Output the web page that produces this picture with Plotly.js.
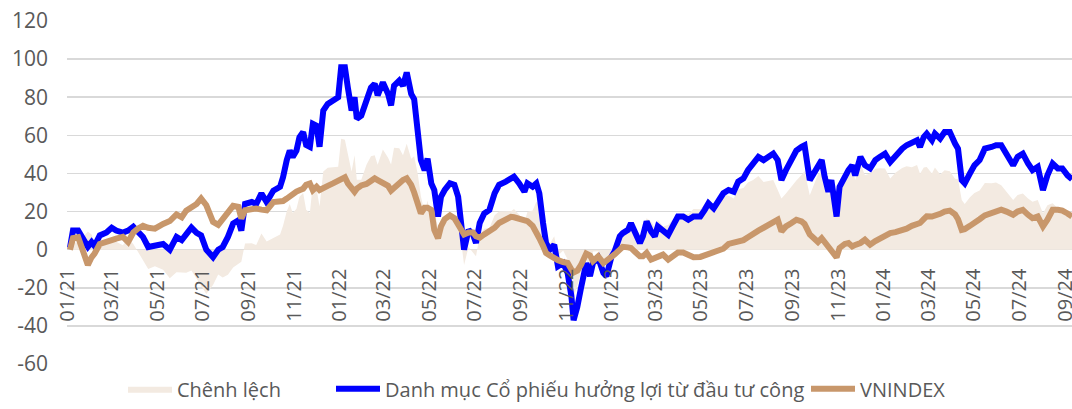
<!DOCTYPE html>
<html>
<head>
<meta charset="utf-8">
<script src="https://cdn.plot.ly/plotly-3.0.1.min.js"></script>
<style>html,body{margin:0;padding:0;background:#fff;}#chart{width:1072px;height:409px;}</style>
</head>
<body>
<div id="chart"></div>
<script>
const dates = ['2021-01-04','2021-01-08','2021-01-15','2021-01-22','2021-01-28','2021-02-02','2021-02-06','2021-02-13','2021-02-22','2021-03-01','2021-03-07','2021-03-16','2021-03-23','2021-03-30','2021-04-05','2021-04-12','2021-04-19','2021-04-28','2021-05-09','2021-05-18','2021-05-27','2021-06-03','2021-06-09','2021-06-16','2021-06-23','2021-06-29','2021-07-06','2021-07-15','2021-07-22','2021-07-28','2021-08-04','2021-08-11','2021-08-18','2021-08-22','2021-08-27','2021-09-05','2021-09-11','2021-09-18','2021-09-25','2021-10-04','2021-10-13','2021-10-17','2021-10-22','2021-10-26','2021-10-30','2021-11-04','2021-11-08','2021-11-13','2021-11-17','2021-11-22','2021-11-26','2021-12-01','2021-12-05','2021-12-10','2021-12-16','2021-12-23','2021-12-30','2022-01-03','2022-01-08','2022-01-12','2022-01-17','2022-01-21','2022-01-24','2022-01-30','2022-02-06','2022-02-12','2022-02-17','2022-02-21','2022-02-28','2022-03-07','2022-03-11','2022-03-15','2022-03-22','2022-03-27','2022-04-01','2022-04-07','2022-04-11','2022-04-16','2022-04-20','2022-04-25','2022-04-29','2022-05-04','2022-05-08','2022-05-13','2022-05-17','2022-05-22','2022-05-29','2022-06-04','2022-06-09','2022-06-13','2022-06-17','2022-06-23','2022-06-29','2022-07-03','2022-07-08','2022-07-14','2022-07-21','2022-07-28','2022-08-03','2022-08-12','2022-08-19','2022-08-23','2022-08-30','2022-09-06','2022-09-10','2022-09-17','2022-09-22','2022-09-26','2022-10-01','2022-10-05','2022-10-10','2022-10-16','2022-10-21','2022-10-28','2022-11-03','2022-11-08','2022-11-11','2022-11-16','2022-11-21','2022-11-28','2022-12-03','2022-12-07','2022-12-14','2022-12-21','2022-12-25','2023-01-01','2023-01-05','2023-01-12','2023-01-16','2023-01-23','2023-01-27','2023-02-01','2023-02-08','2023-02-12','2023-02-17','2023-02-23','2023-02-28','2023-03-04','2023-03-11','2023-03-18','2023-03-25','2023-03-31','2023-04-07','2023-04-14','2023-04-21','2023-04-30','2023-05-06','2023-05-11','2023-05-18','2023-05-24','2023-05-31','2023-06-07','2023-06-14','2023-06-20','2023-06-27','2023-07-03','2023-07-10','2023-07-17','2023-07-24','2023-07-30','2023-08-06','2023-08-12','2023-08-17','2023-08-23','2023-08-30','2023-09-06','2023-09-13','2023-09-17','2023-09-24','2023-10-01','2023-10-05','2023-10-10','2023-10-14','2023-10-19','2023-10-23','2023-10-30','2023-11-03','2023-11-10','2023-11-15','2023-11-20','2023-11-24','2023-12-01','2023-12-07','2023-12-14','2023-12-21','2023-12-27','2024-01-03','2024-01-10','2024-01-17','2024-01-26','2024-02-01','2024-02-08','2024-02-15','2024-02-19','2024-02-24','2024-02-28','2024-03-06','2024-03-10','2024-03-17','2024-03-23','2024-03-30','2024-04-06','2024-04-10','2024-04-15','2024-04-19','2024-04-26','2024-05-02','2024-05-09','2024-05-16','2024-05-25','2024-05-31','2024-06-07','2024-06-14','2024-06-23','2024-06-29','2024-07-06','2024-07-13','2024-07-19','2024-07-26','2024-08-02','2024-08-08','2024-08-15','2024-08-22','2024-08-28','2024-09-04','2024-09-10'];

const danhMuc = [1,10,10,5,1.5,4,2,7.5,9,11.5,10,9,10,12,10,6.7,1.4,2.3,3,0,6.7,5,8.4,11.6,8.8,7.5,0,-3.9,0,1.4,6.7,13.7,15.4,10,24,25,24,29.5,25,31,33,38,47,52,48.7,52,59,61.7,55,54,66,65,54,73,76.5,78,80,95.7,95.7,85,73,80,68.7,70.4,79,85,87,81,87.8,81.7,75.7,86,88.7,86,93,81.7,79,64.3,47,41.7,47.8,34.8,31.3,17.4,27.8,31.3,34.8,34,27.8,14,0,10.4,7.8,3.5,14,19,20.9,29.6,34,35.7,37.4,38.3,34.8,30.4,34.8,33,34.8,29.6,14,3.5,0,2.6,-8.7,-7,-12.2,-24.3,-37,-30,-20,-7,-13.9,-7,-4.3,-12.2,-13.9,-3.5,-0.9,7,8.7,10.4,13.9,8.7,3.5,7,14.8,9.6,7,12.2,9.6,7.8,13,17.4,17.4,15.7,17.4,17.4,20.9,24.3,21.7,26,29.6,31.3,30.4,35.7,37.4,41.7,45.2,48.7,47,48.7,50.4,47,36.5,41.7,47,52,54,54.8,36.5,41.7,43.5,47,38.3,30.4,36.5,17.4,33,39.1,41.7,44.3,39,48.7,44.3,42.6,47,48.7,50.4,46,49.6,53,54.8,55.7,57.4,53.9,59.1,60.9,57.4,60.9,58.3,61.7,61.7,55.7,53,36.5,34.8,40,44.3,47,53,53.9,54.8,54.8,50.4,44.3,48.7,50.4,45.2,41.7,43.5,31.3,39,45.2,42.6,42.6,39,37];

const vnIndex = [0,6,6.5,-2,-8,-4,-2,3,4.5,5,5.8,6.7,4,9,11,12.5,11.5,11,13.5,15,18.5,17,20.5,22.5,24,26.8,23.3,14.6,13,16,19.8,23,22.5,16.3,20.7,21.6,21.6,21,20.7,25,25,25.5,26.8,28,29.5,30.5,31.2,32,34,34.7,31.2,33,31.3,32,33.5,34.8,36.5,37.5,38,34.8,32,30.4,32,33.7,34.5,36,37.4,36.5,35.2,33.5,31,32.5,35.5,36.5,37.4,34,30,25,19,22,22,20.9,10.4,6,12.2,16,18,16.5,13,9.6,8,9,9,7,6.3,8,9.5,11.5,14,15.7,17.2,17,16.5,16,15,12.5,9.6,6,2,-1.7,-3,-4.5,-5.5,-6.5,-7,-10.4,-12,-11,-8,-2,-3,-6,-3.5,-7,-6,-4,-2.5,0,1.5,1.2,0.9,-1,-3.5,-3.5,-1.7,-5.2,-4.5,-3.5,-2.6,-5.2,-3.5,-1.5,-1.5,-3,-4,-3.8,-3,-2.6,-2,-1.2,0.5,3,3.5,4,5,6.5,8.7,10,11.5,12.8,13.9,15.7,9.6,12.2,13.9,15.7,14.8,13.5,8,5.5,4,6,4,1.7,0,-4,0.9,3,3.5,1.7,2.5,3.5,5.2,2.6,4.5,6,7.8,8.7,9.2,10.2,11,12.5,13,14,16,17.5,17.4,17.8,18.8,20,20.5,18.5,16,10.4,10.8,12.5,14.5,16,18,19.1,19.5,21,20,18.3,20,20.9,18.3,16.5,17.4,12.2,15.7,20.9,20.9,20.5,19,17.4];

const chenhLech = [1,4,3.5,7,9.5,8,4,4.5,4.5,6.5,4.2,2.3,6,3,-1,-5.8,-10.1,-8.7,-10.5,-15,-11.8,-12,-12.1,-10.9,-15.2,-19.3,-23.3,-18.5,-13,-14.6,-13.1,-9.3,-7.1,-6.3,3.3,3.4,2.4,8.5,4.3,6,8,12.5,20.2,24,19.2,21.5,27.8,29.7,21,19.3,34.8,32,22.7,41,43,43.2,43.5,58.2,57.7,50.2,41,49.6,36.7,36.7,44.5,49,49.6,44.5,52.6,48.2,44.7,53.5,53.2,49.5,55.6,47.7,49,39.3,28,19.7,25.8,13.9,20.9,11.4,15.6,15.3,16.8,17.5,14.8,4.4,-8,1.4,-1.2,-3.5,7.7,11,11.4,18.1,20,20,20.2,21.3,18.3,14.4,19.8,20.5,25.2,23.6,12,5.2,3,7.1,-3.2,-0.5,-5.2,-13.9,-25,-19,-12,-5,-10.9,-1,-0.8,-5.2,-7.9,0.5,1.6,7,7.2,9.2,13,9.7,7,10.5,16.5,14.8,11.5,15.7,12.2,13,16.5,18.9,18.9,18.7,21.4,21.2,23.9,26.9,23.7,27.2,29.1,28.3,26.9,31.7,32.4,35.2,36.5,38.7,35.5,35.9,36.5,31.3,26.9,29.5,33.1,36.3,39.2,41.3,28.5,36.2,39.5,41,34.3,28.7,36.5,21.4,32.1,36.1,38.2,42.6,36.5,45.2,39.1,40,42.5,42.7,42.6,37.3,40.4,42.8,43.8,43.2,44.4,39.9,43.1,43.4,40,43.1,39.5,41.7,41.2,37.2,37,26.1,24,27.5,29.8,31,35,34.8,35.3,33.8,30.4,26,28.7,29.5,26.9,25.2,26.1,19.1,23.3,24.3,21.7,22.1,20,19.6];

const seriesNames = ['Chênh lệch', 'Danh mục Cổ phiếu hưởng lợi từ đầu tư công', 'VNINDEX'];

const xTickVals = ['2021-01-01','2021-03-01','2021-05-01','2021-07-01','2021-09-01','2021-11-01','2022-01-01','2022-03-01','2022-05-01','2022-07-01','2022-09-01','2022-11-01','2023-01-01','2023-03-01','2023-05-01','2023-07-01','2023-09-01','2023-11-01','2024-01-01','2024-03-01','2024-05-01','2024-07-01','2024-09-01'];
const xTickText = ['01/21','03/21','05/21','07/21','09/21','11/21','01/22','03/22','05/22','07/22','09/22','11/22','01/23','03/23','05/23','07/23','09/23','11/23','01/24','03/24','05/24','07/24','09/24'];
const yTickVals = [-60,-40,-20,0,20,40,60,80,100,120];
const yTickText = ['-60','-40','-20','0','20','40','60','80','100','120'];

const FONT = 'Open Sans, Noto Sans, sans-serif';
const GREY = '#595959';

const traces = [
  {
    x: dates, y: chenhLech, name: seriesNames[0], type: 'scatter', mode: 'lines',
    fill: 'tozeroy', fillcolor: '#F3EAE1', line: {width: 0, color: '#F3EAE1'}, legend: 'legend'
  },
  {
    x: dates, y: danhMuc, name: seriesNames[1], type: 'scatter', mode: 'lines',
    line: {color: '#0000FF', width: 6}, legend: 'legend2'
  },
  {
    x: dates, y: vnIndex, name: seriesNames[2], type: 'scatter', mode: 'lines',
    line: {color: '#C8976B', width: 6}, legend: 'legend3'
  }
];

function leg(xpx) {
  return {
    orientation: 'h', x: (xpx - 67) / 1005, xanchor: 'left', y: -0.129, yanchor: 'bottom',
    font: {family: FONT, size: 20, color: GREY}, bgcolor: 'rgba(0,0,0,0)', itemwidth: 44
  };
}

const layout = {
  width: 1072, height: 409,
  margin: {l: 67, r: 0, t: 21, b: 45, pad: 0, autoexpand: false},
  paper_bgcolor: '#ffffff', plot_bgcolor: '#ffffff',
  font: {family: FONT, size: 20, color: GREY},
  showlegend: true,
  legend: leg(123),
  legend2: leg(331),
  legend3: leg(806),
  xaxis: {
    type: 'date', range: ['2020-12-31', '2024-09-10'],
    tickmode: 'array', tickvals: xTickVals, ticktext: xTickText, tickangle: -90,
    showgrid: false, zeroline: false, showline: false, ticks: '',
    anchor: 'free', position: 1/3, ticklabelstandoff: 14, ticklabeloverflow: 'allow',
    automargin: false,
    tickfont: {family: FONT, size: 20, color: GREY}
  },
  yaxis: {
    range: [-60, 120], tickmode: 'array', tickvals: yTickVals, ticktext: yTickText,
    showgrid: true, gridcolor: '#D9D9D9', gridwidth: 1.5, zeroline: false, showline: false,
    ticks: '', ticklabelstandoff: 18, automargin: false,
    tickfont: {family: FONT, size: 21, color: GREY}
  }
};

Plotly.newPlot('chart', traces, layout, {displayModeBar: false, staticPlot: true});
</script>
</body>
</html>
